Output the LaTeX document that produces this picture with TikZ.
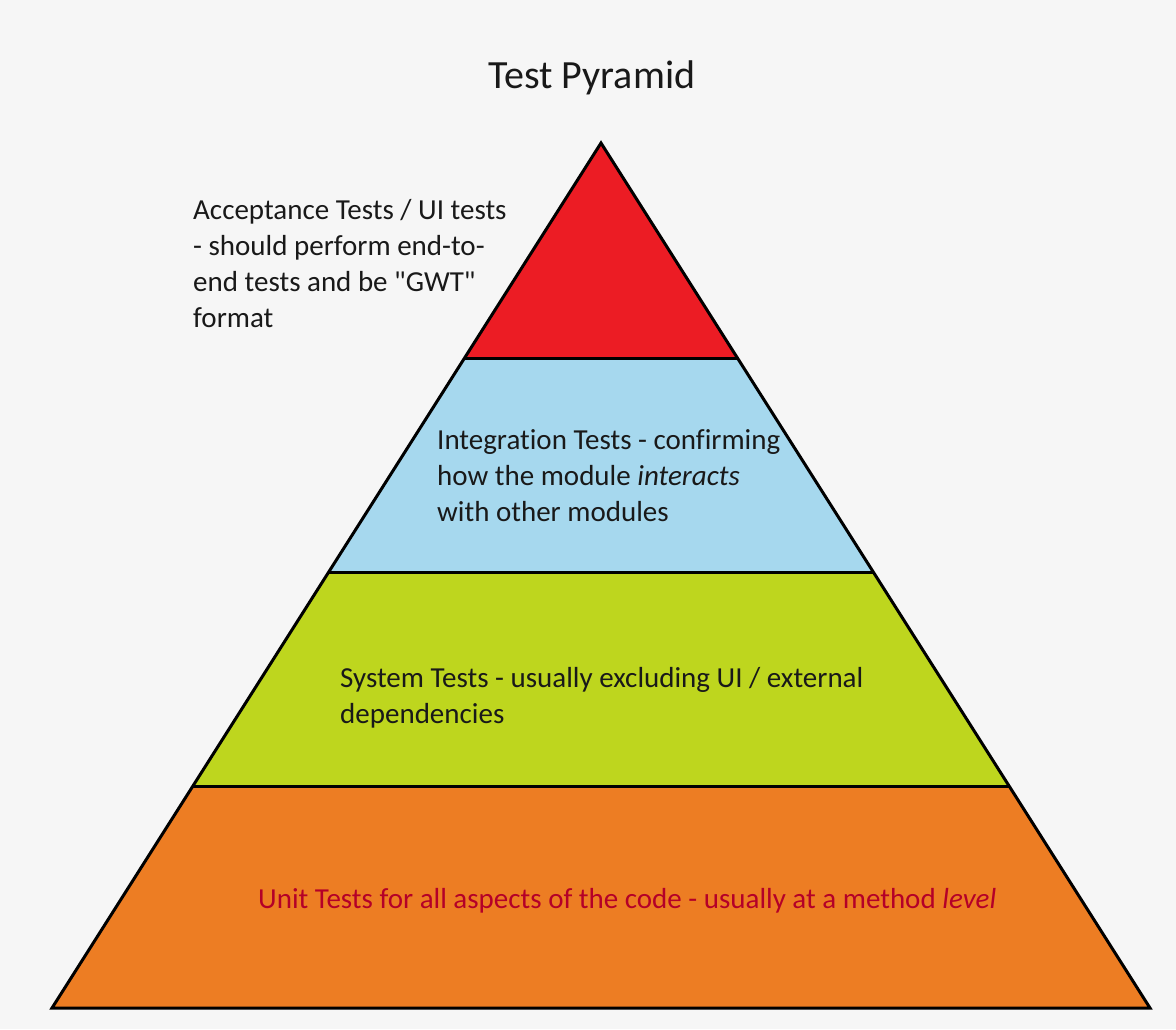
\documentclass[tikz,border=0pt]{standalone}
\usepackage{fontspec}
\setmainfont{Carlito}[Ligatures={TeXOff,NoCommon}]
\definecolor{bg}{RGB}{246,246,246}
\definecolor{lred}{RGB}{236,28,36}
\definecolor{lblue}{RGB}{166,216,238}
\definecolor{lgreen}{RGB}{190,214,30}
\definecolor{lorange}{RGB}{237,125,35}
\definecolor{unittext}{RGB}{180,0,40}
\definecolor{txt}{RGB}{25,25,25}
\tikzset{
  edge/.style={draw=black, line width=3pt, line join=miter},
  lbl/.style={font=\fontsize{29}{36}\selectfont, text=txt, align=left, inner sep=0pt},
}
\begin{document}
\begin{tikzpicture}[x=1pt,y=-1pt]
\fill[bg] (0,0) rectangle (1176,1029);
\useasboundingbox (0,0) rectangle (1176,1029);
\coordinate (A) at (601,143);
\coordinate (L1) at (464.5,358); \coordinate (R1) at (737.5,358);
\coordinate (L2) at (328.7,572); \coordinate (R2) at (873.3,572);
\coordinate (L3) at (192.9,786); \coordinate (R3) at (1009.1,786);
\coordinate (BL) at (52,1008); \coordinate (BR) at (1150,1008);
\fill[lred] (A) -- (R1) -- (L1) -- cycle;
\fill[lblue] (L1) -- (R1) -- (R2) -- (L2) -- cycle;
\fill[lgreen] (L2) -- (R2) -- (R3) -- (L3) -- cycle;
\fill[lorange] (L3) -- (R3) -- (BR) -- (BL) -- cycle;
\draw[edge] (L1) -- (R1);
\draw[edge] (L2) -- (R2);
\draw[edge] (L3) -- (R3);
\draw[edge] (A) -- (BR) -- (BL) -- cycle;
\node[lbl, font=\fontsize{40}{48}\selectfont, anchor=base west] (title) at (488,88) {Test Pyramid};
\node[lbl, anchor=north west] (acc) at (193,199) {Acceptance Tests / UI tests\\- should perform end-to-\\end tests and be "GWT"\\format};
\node[lbl, anchor=north west] (int) at (437,429) {Integration Tests - confirming\\how the module \textit{interacts}\\with other modules};
\node[lbl, anchor=north west] (sys) at (340,667) {System Tests - usually excluding UI / external\\dependencies};
\node[lbl, anchor=west, text=unittext] (unit) at (258,901) {Unit Tests for all aspects of the code - usually at a method \textit{level}};
\end{tikzpicture}
\end{document}
